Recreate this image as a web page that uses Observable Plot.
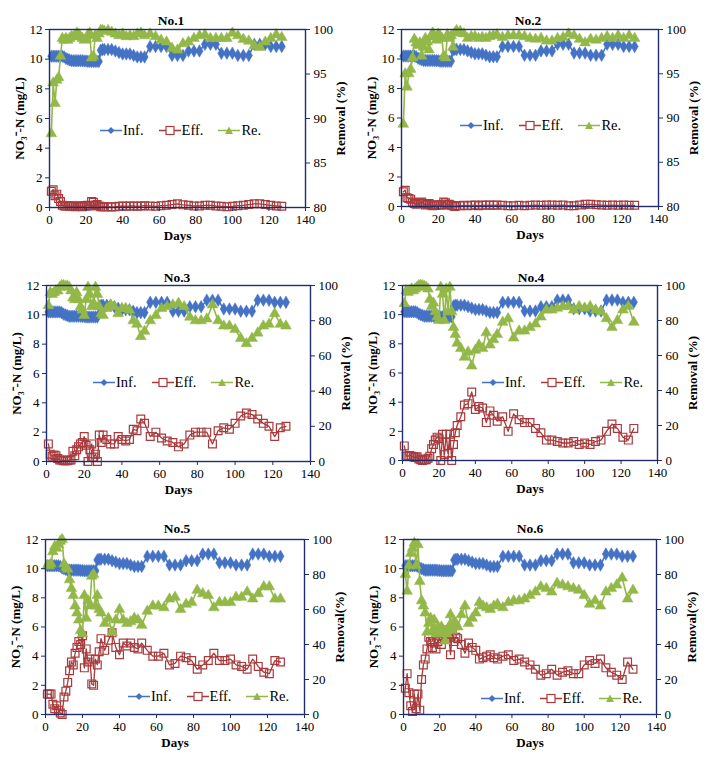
<!DOCTYPE html>
<html><head><meta charset="utf-8">
<script src="https://cdn.jsdelivr.net/npm/d3@7"></script>
<script src="https://cdn.jsdelivr.net/npm/@observablehq/plot@0.6"></script>
<style>
html,body{margin:0;padding:0;background:#fff;}
body{width:720px;height:765px;position:relative;overflow:hidden;font-family:"Liberation Serif","Times New Roman",serif;}
.panel{position:absolute;}
.title{position:absolute;font-weight:bold;font-size:13.5px;transform:translate(-50%,-50%);white-space:nowrap;}
.legend{position:absolute;display:flex;align-items:center;font-size:14.5px;transform:translateY(-50%);white-space:nowrap;}
.legend .item{display:flex;align-items:center;margin-right:15px;}
.legend svg{display:block;margin-right:1px;}
svg g[aria-label$="tick"] path{stroke:#1f2d6e;}
svg g[aria-label$="axis label"] text{font-weight:bold;font-size:13px;}
</style></head>
<body>
<script>
// ---- data ----
const days = [1,2,3,4,5,6,7,8,9,10,11,12,13,14,15,16,17,18,19,20,21,22,23,24,25,26,27,28,29,30,
  32,34,36,38,40,42,44,46,48,50,52,
  55,58,61,64,67,70,73,76,79,82,85,88,91,94,97,100,103,106,109,112,115,118,121,124,127];

const inf = [10.2,10.2,10.2,10.2,10.2,10.2,10.2,10.15,10.05,10.0,
  9.95,9.9,9.9,9.9,9.9,9.9,9.9,9.9,9.88,9.88,
  9.85,9.85,9.85,9.85,9.85,9.85,9.85,10.6,10.65,10.65,
  10.65,10.65,10.55,10.45,10.35,10.35,10.35,10.25,10.15,10.15,10.15,
  10.85,10.85,10.85,10.85,10.25,10.25,10.25,10.55,10.55,10.55,11.0,11.0,11.0,10.4,10.4,10.4,10.25,10.25,10.25,11.0,11.0,11.0,10.85,10.85,10.85];

const eff1 = [1.1,1.2,0.8,0.9,0.6,0.4,0.15,0.1,0.1,0.12,
  0.1,0.08,0.1,0.05,0.1,0.08,0.1,0.05,0.12,0.1,
  0.15,0.1,0.4,0.35,0.15,0.2,0.1,0.05,0.05,0.05,
  0.05,0.03,0.05,0.08,0.1,0.08,0.1,0.1,0.08,0.1,0.12,
  0.1,0.08,0.12,0.15,0.2,0.25,0.18,0.15,0.1,0.1,0.15,0.15,0.1,0.08,0.05,0.08,0.12,0.15,0.2,0.25,0.25,0.2,0.15,0.1,0.08];
const re1 = [88.3,94.0,91.7,94.3,94.6,97.0,99.0,98.8,99.0,98.8,
  99.0,99.2,99.2,99.3,99.6,99.4,99.2,99.0,98.8,98.9,
  99.4,99.6,96.8,97.0,99.3,99.0,99.5,99.9,99.9,99.8,
  99.9,99.7,99.5,99.3,99.5,99.2,99.3,99.2,99.5,99.6,99.3,
  99.5,99.2,98.8,98.6,97.9,97.7,98.4,98.6,99.0,99.3,99.4,99.0,99.0,99.0,99.0,99.6,99.3,98.9,98.7,98.2,98.0,98.6,99.0,99.4,99.1];

const eff2 = [1.0,1.1,0.6,0.55,0.5,0.3,0.2,0.15,0.2,0.25,
  0.3,0.2,0.1,0.15,0.2,0.1,0.05,0.1,0.08,0.1,
  0.1,0.12,0.3,0.25,0.1,0.15,0.08,0.05,0.0,0.05,
  0.05,0.08,0.05,0.08,0.1,0.05,0.1,0.08,0.1,0.08,0.1,
  0.08,0.05,0.05,0.08,0.05,0.08,0.1,0.08,0.1,0.1,0.08,0.1,0.05,0.05,0.1,0.15,0.15,0.12,0.1,0.08,0.1,0.08,0.1,0.08,0.08];
const re2 = [89.3,95.0,93.5,95.0,95.5,96.8,98.9,98.5,98.2,98.5,
  97.0,98.0,99.0,98.6,97.7,99.2,99.6,99.2,98.8,99.5,
  99.3,99.0,97.0,96.8,99.4,99.0,99.3,98.0,99.6,99.9,
  99.8,99.5,99.0,99.2,99.2,99.0,99.1,99.0,99.2,99.3,99.4,
  99.1,99.3,99.3,99.3,99.2,99.0,98.9,99.0,98.7,98.7,99.0,99.1,99.5,99.3,98.9,98.5,98.9,98.8,99.0,99.2,99.0,99.3,99.0,99.3,99.0];

const eff3 = [1.2,0.5,0.35,0.45,0.4,0.2,0.1,0.1,0.05,0.05,
  0.05,0.1,0.1,0.7,0.4,0.8,1.0,1.2,1.3,1.7,
  1.1,0.0,0.8,1.2,0.3,0.5,0.0,1.8,1.3,1.8,
  1.5,1.2,1.2,1.7,1.5,1.4,1.5,2.2,2.1,2.9,2.6,
  1.7,2.0,1.6,1.4,1.3,1.0,1.2,1.8,2.0,2.0,2.0,1.2,2.1,2.3,2.2,2.6,3.1,3.3,3.2,2.9,2.6,2.4,1.7,2.3,2.4];
const re3 = [88.6,96.0,95.0,96.0,97.0,97.0,99.0,100.0,100.0,99.5,
  99.8,99.0,97.0,93.0,92.0,96.0,92.0,88.0,86.0,83.0,
  92.0,99.0,95.0,88.0,90.0,99.0,95.0,88.0,84.0,83.0,
  87.0,89.0,88.0,84.0,87.0,87.0,86.0,80.0,78.0,71.0,74.0,
  80.0,83.0,87.0,88.0,89.0,90.0,88.0,82.0,80.0,80.0,81.0,89.0,80.0,77.0,77.0,75.0,70.0,67.0,70.0,73.0,77.0,78.0,84.0,78.0,77.0];

const eff4 = [1.0,0.3,0.3,0.35,0.3,0.25,0.2,0.25,0.1,0.05,
  0.0,0.05,0.05,0.15,0.3,0.8,1.1,1.4,1.6,1.5,
  0.0,1.8,0.4,1.8,0.5,1.8,0.0,1.1,1.9,2.4,
  3.0,3.8,3.9,4.7,3.5,3.7,3.6,2.6,3.4,3.1,2.7,
  3.0,2.0,3.2,2.8,2.6,2.6,2.2,1.9,1.4,1.4,1.3,1.2,1.2,1.3,1.1,1.2,1.1,1.3,1.4,2.0,2.5,2.2,1.6,1.4,2.2];
const re4 = [89.7,97.0,96.0,97.0,98.0,97.0,98.0,99.0,100.0,100.0,
  100.0,99.5,99.0,98.0,92.0,88.0,90.0,85.0,82.0,80.0,
  99.0,95.0,80.0,98.0,85.0,99.0,85.0,76.0,72.0,67.0,
  64.0,59.0,62.0,54.0,63.0,66.0,64.0,73.0,66.0,69.0,72.0,
  79.0,81.0,70.0,74.0,74.0,76.0,78.0,82.0,86.0,86.0,87.0,88.0,88.0,86.0,88.0,87.0,88.0,86.0,85.0,81.0,76.0,80.0,86.0,88.0,79.0];

const eff5 = [1.4,1.4,1.4,0.7,0.4,0.6,0.3,0.1,0.0,1.2,
  1.6,2.2,3.0,3.6,3.4,4.2,4.6,5.0,4.8,5.4,
  3.2,4.5,3.6,3.8,2.1,2.0,3.8,3.4,4.3,5.2,
  4.4,5.1,5.6,4.6,4.1,4.9,4.7,4.9,4.6,4.5,4.9,
  4.4,4.0,4.0,4.2,3.4,3.5,4.0,3.9,3.7,3.1,3.4,3.7,4.2,3.7,3.7,3.8,3.4,3.3,3.1,3.8,3.3,2.9,2.8,3.7,3.6];
const re5 = [85.0,85.0,86.0,93.0,96.0,95.0,97.0,99.0,100.0,86.0,
  84.0,83.0,77.0,72.0,68.0,62.0,58.0,54.0,48.0,46.0,
  68.0,55.0,65.0,62.0,79.0,80.0,62.0,68.0,60.0,58.0,
  52.0,55.0,47.0,54.0,60.0,54.0,52.0,53.0,55.0,54.0,51.0,
  59.0,62.0,62.0,61.0,66.0,67.0,60.0,63.0,64.0,71.0,69.0,68.0,61.0,64.0,64.0,64.0,67.0,67.0,70.0,66.0,69.0,73.0,73.0,66.0,66.0];

const eff6 = [1.8,2.8,1.5,0.6,0.2,1.4,0.4,1.4,0.3,2.4,
  3.4,3.8,4.5,5.3,5.0,4.6,4.9,4.5,5.0,5.2,
  4.8,5.4,5.8,5.2,5.5,4.1,5.5,5.0,5.3,5.2,
  4.8,4.2,4.9,4.6,4.4,3.8,3.9,4.0,4.1,3.9,3.8,
  4.0,4.1,3.7,3.8,3.6,3.4,3.1,2.7,2.8,3.1,2.7,2.9,3.0,2.8,2.8,3.4,3.7,3.5,3.8,3.2,2.9,2.7,2.4,3.6,3.1];
const re6 = [80.0,70.5,85.0,92.0,95.0,98.0,85.0,97.0,76.0,65.0,
  62.0,58.0,47.0,52.0,55.0,48.0,54.0,46.0,50.0,46.0,
  50.0,48.0,42.0,46.0,50.0,57.0,48.0,53.0,52.0,50.0,
  57.0,62.0,52.0,55.0,58.0,64.0,62.0,61.0,60.0,62.0,63.0,
  61.0,64.0,65.0,65.0,66.0,68.0,70.0,73.0,72.0,70.0,75.0,74.0,73.0,72.0,71.0,68.0,63.0,65.0,62.0,70.0,72.0,74.0,78.0,66.0,71.0];

const panelNames = ["No.1","No.2","No.3","No.4","No.5","No.6"];
const effSeries = [eff1,eff2,eff3,eff4,eff5,eff6];
const reSeries = [re1,re2,re3,re4,re5,re6];
const reMins = [80,80,0,0,0,0];
const reSteps = [5,5,20,20,20,20];
const xTicks = [0,20,40,60,80,100,120,140];
const yTicks = [0,2,4,6,8,10,12];
const rightLabels = ["Removal (%)","Removal (%)","Removal (%)","Removal (%)","Removal(%)","Removal(%)"];
const legendNames = ["Inf.","Eff.","Re."];

// ---- layout & style ----
const NAVY = "#1f2d6e";
const C_INF = "#4472c4", C_EFF = "#a83a3c", C_RE = "#93b848";
const layout = [
  {left:0,   top:0,   w:360, h:250, ml:49, mr:55, mt:29, mb:43, title:[171,21],  legend:[100,130]},
  {left:360, top:0,   w:360, h:250, ml:41, mr:62, mt:29, mb:44, title:[528,21],  legend:[460,125]},
  {left:0,   top:250, w:360, h:250, ml:46, mr:50, mt:35, mb:39, title:[177,278], legend:[93,382]},
  {left:360, top:250, w:360, h:250, ml:42, mr:63, mt:35, mb:40, title:[531,278], legend:[482,382]},
  {left:0,   top:500, w:360, h:265, ml:45, mr:56, mt:39, mb:51, title:[177,529], legend:[128,696]},
  {left:360, top:500, w:360, h:265, ml:43, mr:64, mt:39, mb:51, title:[530,529], legend:[481,698]}
];

function makePanel(i) {
  const L = layout[i];
  const reMin = reMins[i];
  const toY = r => (r - reMin) / (100 - reMin) * 12;
  const rTicks = d3.range(reMin, 100.0001, reSteps[i]).map(toY);
  const infData = days.map((d, k) => ({d, v: inf[k]}));
  const effData = days.map((d, k) => ({d, v: effSeries[i][k]}));
  const reData = days.map((d, k) => ({d, v: toY(reSeries[i][k])}));
  const plot = Plot.plot({
    width: L.w, height: L.h,
    marginLeft: L.ml, marginRight: L.mr, marginTop: L.mt, marginBottom: L.mb,
    x: {domain: [0, 140]},
    y: {domain: [0, 12]},
    style: {fontFamily: '"Liberation Serif","Times New Roman",serif', fontSize: "13px", color: "#000", background: "transparent", overflow: "visible"},
    marks: [
      Plot.line(infData, {x: "d", y: "v", stroke: C_INF, strokeWidth: 1.6}),
      Plot.dot(infData, {x: "d", y: "v", symbol: "diamond", r: 3.8, fill: C_INF, stroke: C_INF, strokeWidth: 0.5}),
      Plot.line(effData, {x: "d", y: "v", stroke: C_EFF, strokeWidth: 1.3}),
      Plot.dot(effData, {x: "d", y: "v", symbol: "square", r: 4.4, fill: "none", stroke: C_EFF, strokeWidth: 1.2}),
      Plot.line(reData, {x: "d", y: "v", stroke: C_RE, strokeWidth: 1.6}),
      Plot.dot(reData, {x: "d", y: "v", symbol: "triangle", r: 4, fill: C_RE, stroke: C_RE, strokeWidth: 0.5}),
      Plot.frame({stroke: NAVY, strokeWidth: 1.4}),
      Plot.axisX({ticks: xTicks, tickSize: 4, tickPadding: 3, label: "Days", labelAnchor: "center", labelArrow: "none", labelOffset: 32}),
      Plot.axisY({anchor: "left", ticks: yTicks, tickSize: 4, tickPadding: 3, label: "NO\u2083\u207B-N (mg/L)", labelAnchor: "center", labelArrow: "none", labelOffset: 35}),
      Plot.axisY({anchor: "right", ticks: rTicks, tickSize: 4, tickPadding: 4, tickFormat: d => Math.round(reMin + d / 12 * (100 - reMin)), label: rightLabels[i], labelAnchor: "center", labelArrow: "none", labelOffset: 39})
    ]
  });
  const div = document.createElement("div");
  div.className = "panel";
  div.style.left = L.left + "px";
  div.style.top = L.top + "px";
  div.appendChild(plot);
  document.body.appendChild(div);

  const t = document.createElement("div");
  t.className = "title";
  t.textContent = panelNames[i];
  t.style.left = L.title[0] + "px";
  t.style.top = L.title[1] + "px";
  document.body.appendChild(t);

  const lg = document.createElement("div");
  lg.className = "legend";
  lg.style.left = L.legend[0] + "px";
  lg.style.top = L.legend[1] + "px";
  const colors = [C_INF, C_EFF, C_RE];
  const syms = [
    c => `<path d="M11,2.5 L14.5,6 L11,9.5 L7.5,6Z" fill="${c}"/>`,
    c => `<rect x="7" y="2" width="8" height="8" fill="#fff" stroke="${c}" stroke-width="1.2"/>`,
    c => `<path d="M11,2 L15,9.5 L7,9.5Z" fill="${c}"/>`
  ];
  legendNames.forEach((n, k) => {
    const it = document.createElement("span");
    it.className = "item";
    it.innerHTML = `<svg width="22" height="12"><line x1="0" x2="22" y1="6" y2="6" stroke="${colors[k]}" stroke-width="1.5"/>${syms[k](colors[k])}</svg><span>${n}</span>`;
    lg.appendChild(it);
  });
  document.body.appendChild(lg);
}
for (let i = 0; i < 6; i++) makePanel(i);
</script>
</body></html>
